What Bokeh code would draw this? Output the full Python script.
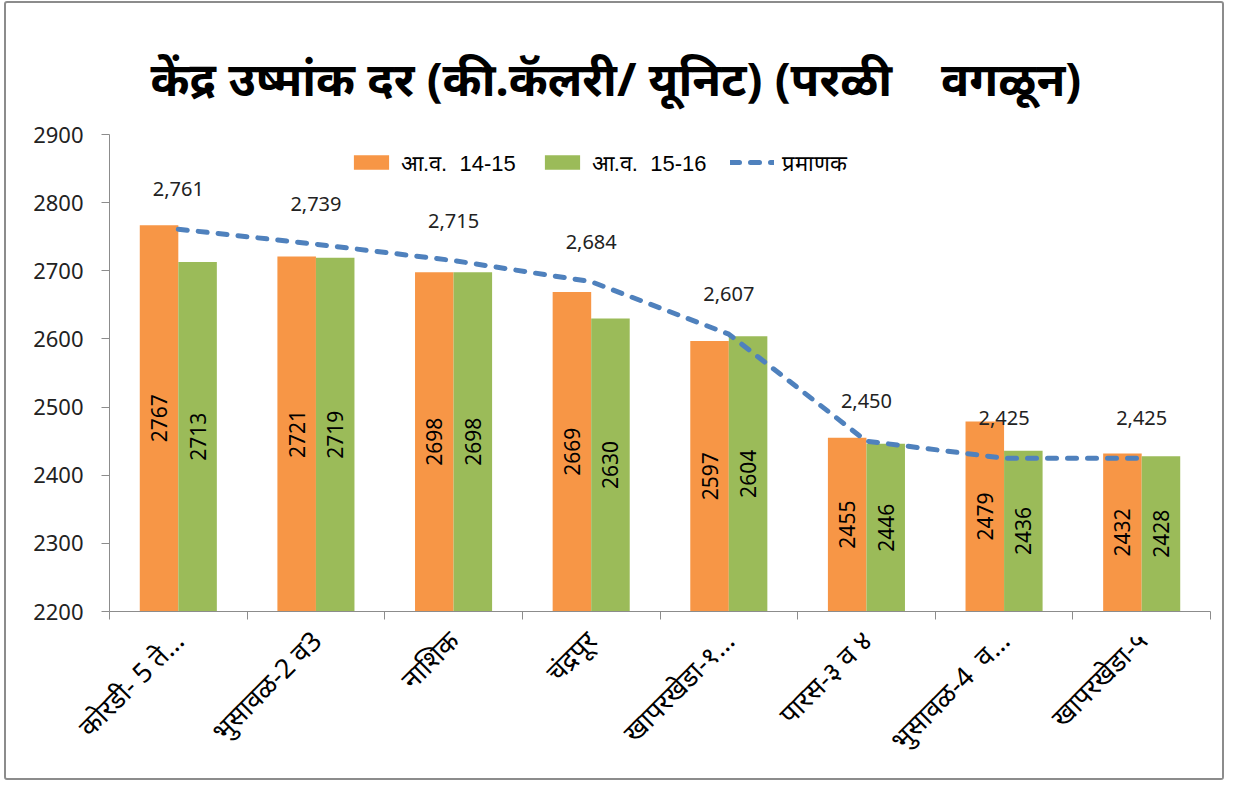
import math
from bokeh.plotting import figure
from bokeh.models import FixedTicker, Legend, LegendItem, ColumnDataSource, Range1d
from bokeh.core.properties import value
from bokeh.embed import file_html
from bokeh.resources import INLINE

NB = "\u00a0"
categories = ["कोरडी-" + NB + "5" + NB + "ते…", "भुसावळ-2" + NB + "व3", "नाशिक", "चंद्रपूर",
              "खापरखेडा-१…", "पारस-३" + NB + "व" + NB + "४", "भुसावळ-4" + NB + NB + "व…", "खापरखेडा-५"]
series_1415 = [2767, 2721, 2698, 2669, 2597, 2455, 2479, 2432]
series_1516 = [2713, 2719, 2698, 2630, 2604, 2446, 2436, 2428]
standard = [2761, 2739, 2715, 2684, 2607, 2450, 2425, 2425]
y_ticks = [2200, 2300, 2400, 2500, 2600, 2700, 2800, 2900]
title_text = "केंद्र उष्मांक दर (की.कॅलरी/ यूनिट) (परळी" + NB * 4 + "वगळून)"
legend_labels = ["आ.व." + NB + NB + "14-15", "आ.व." + NB + NB + "15-16", "प्रमाणक"]

ORANGE = "#F79646"
GREEN = "#9BBB59"
BLUE = "#4F81BD"
FONT = "Noto Sans"

n = len(categories)
centers = [i + 0.5 for i in range(n)]
bw = 0.28
base = y_ticks[0]

src1 = ColumnDataSource(dict(x=[c - bw / 2 for c in centers], top=series_1415,
                             mid=[(v + base) / 2 for v in series_1415],
                             lab=[str(v) for v in series_1415]))
src2 = ColumnDataSource(dict(x=[c + bw / 2 for c in centers], top=series_1516,
                             mid=[(v + base) / 2 for v in series_1516],
                             lab=[str(v) for v in series_1516]))
src3 = ColumnDataSource(dict(x=centers, y=standard,
                             lab=[f"{v:,}" for v in standard]))

p = figure(width=1220, height=779, output_backend="svg", toolbar_location=None,
           x_range=Range1d(0, n), y_range=Range1d(y_ticks[0], y_ticks[-1]),
           min_border_left=103, min_border_right=16, min_border_top=131,
           min_border_bottom=171)
p.styles = {"border": "2px solid #8c8c8c", "border-radius": "3px",
            "box-sizing": "border-box", "margin-left": "4px", "margin-top": "1px"}

p.title.text = title_text
p.title.align = "left"
p.title.offset = 41
p.title.text_font = FONT
p.title.text_font_size = "47px"
p.title.text_font_style = "bold"
p.title.text_color = "#000000"
p.title.standoff = 50

p.outline_line_color = None
p.xgrid.grid_line_color = None
p.ygrid.grid_line_color = None

r1 = p.vbar(x="x", top="top", bottom=base, width=bw, source=src1, fill_color=ORANGE, line_color=None)
r2 = p.vbar(x="x", top="top", bottom=base, width=bw, source=src2, fill_color=GREEN, line_color=None)
r3 = p.line(x="x", y="y", source=src3, line_color=BLUE, line_width=5, line_dash="9 11", line_cap="round")

for s in (src1, src2):
    p.text(x="x", y="mid", text="lab", source=s, angle=math.pi / 2,
           text_align="center", text_baseline="middle", text_font=value(FONT),
           text_font_size="21px", text_color="#000000")
p.text(x="x", y="y", text="lab", source=src3, y_offset=-40,
       text_align="center", text_baseline="middle", text_font=value(FONT),
       text_font_size="20px", text_color="#222222")

# y axis
p.yaxis.ticker = FixedTicker(ticks=y_ticks)
p.yaxis.major_label_text_font = FONT
p.yaxis.major_label_text_font_size = "22px"
p.yaxis.major_label_text_color = "#222222"
p.yaxis.major_label_standoff = 18
p.yaxis.axis_line_color = "#8c8c8c"
p.yaxis.major_tick_line_color = "#8c8c8c"
p.yaxis.major_tick_out = 8
p.yaxis.major_tick_in = 0
p.yaxis.minor_tick_line_color = None

# x axis
p.xaxis.ticker = FixedTicker(ticks=centers, minor_ticks=list(range(n + 1)))
p.xaxis.major_label_overrides = {c: lab for c, lab in zip(centers, categories)}
p.xaxis.major_label_orientation = math.pi / 4
p.xaxis.major_label_text_font = FONT
p.xaxis.major_label_text_font_size = "27px"
p.xaxis.major_label_text_color = "#000000"
p.xaxis.major_tick_line_color = None
p.xaxis.major_label_standoff = 16
p.xaxis.minor_tick_out = 8
p.xaxis.minor_tick_in = 0
p.xaxis.minor_tick_line_color = "#8c8c8c"
p.xaxis.axis_line_color = "#8c8c8c"

legend = Legend(items=[LegendItem(label=legend_labels[0], renderers=[r1]),
                       LegendItem(label=legend_labels[1], renderers=[r2]),
                       LegendItem(label=legend_labels[2], renderers=[r3])],
                orientation="horizontal", location=(240, 434),
                glyph_width=44, glyph_height=18, spacing=24, label_standoff=8,
                label_text_font="Liberation Sans", label_text_font_size="22px",
                label_text_color="#000000", border_line_color=None,
                background_fill_alpha=0, padding=0, margin=0)
p.add_layout(legend)

open("out.html", "w").write(file_html(p, INLINE))
